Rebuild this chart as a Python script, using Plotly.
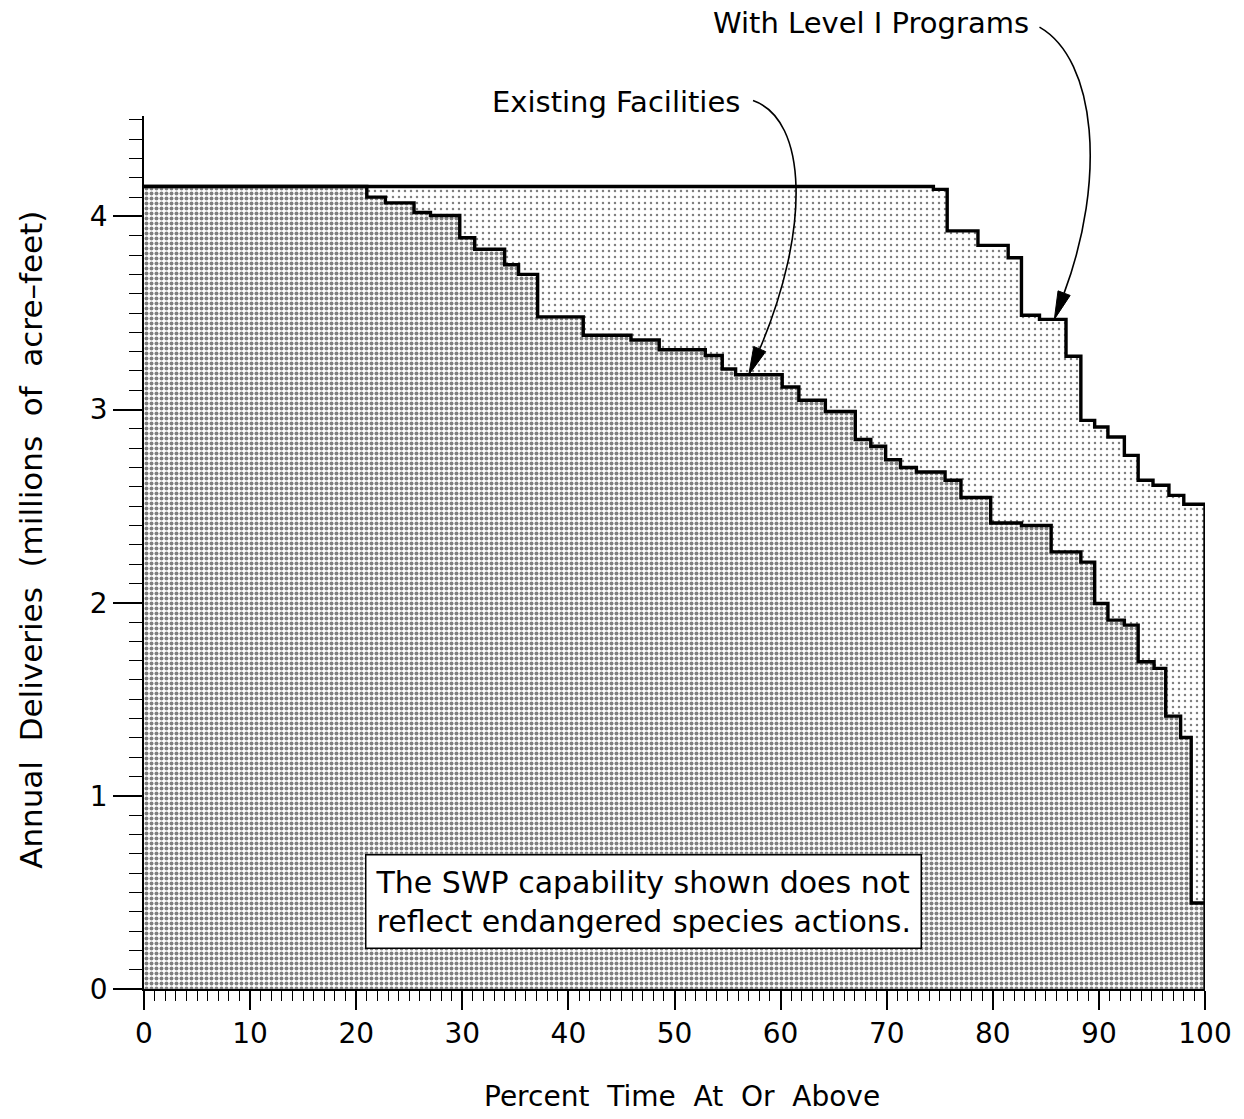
import math
import plotly.graph_objects as go

# Delivery-exceedance steps: percent of time at which each level starts, and
# the annual delivery (millions of acre-feet) held until the next step.
existing_pct = [0, 21.0, 22.75, 25.45, 27.0, 29.76, 31.17, 33.99, 35.3, 37.1,
                41.4, 45.9, 48.56, 52.9, 54.5, 55.76, 60.15, 61.72, 64.22, 67.04,
                68.5, 69.9, 71.3, 72.8, 75.5, 77.0, 79.8, 82.7, 85.5, 88.3,
                89.6, 90.85, 92.4, 93.7, 95.2, 96.3, 97.7, 98.7]
existing_maf = [4.155, 4.10, 4.07, 4.02, 4.005, 3.89, 3.83, 3.75, 3.70, 3.48,
                3.385, 3.36, 3.31, 3.28, 3.21, 3.18, 3.117, 3.048, 2.99, 2.845,
                2.81, 2.74, 2.70, 2.677, 2.634, 2.545, 2.413, 2.40, 2.263, 2.21,
                1.996, 1.91, 1.884, 1.694, 1.66, 1.413, 1.302, 0.445]

level1_pct = [0, 74.4, 75.7, 78.6, 81.45, 82.7, 84.4, 86.9, 88.3, 89.6,
              90.85, 92.4, 93.7, 95.1, 96.6, 98.0]
level1_maf = [4.155, 4.14, 3.925, 3.85, 3.786, 3.488, 3.467, 3.276, 2.944, 2.91,
              2.858, 2.763, 2.634, 2.608, 2.556, 2.51]

x_ticks = list(range(0, 101, 10))
y_ticks = [0, 1, 2, 3, 4]

X_MAX = 100
Y_MAX = 4.52

W, H = 1244, 1119
MARGIN = dict(l=144, r=35, t=116, b=130)
PW = W - MARGIN["l"] - MARGIN["r"]
PH = H - MARGIN["t"] - MARGIN["b"]

FONT = "DejaVu Sans"
GAP = "\u00a0 "  # wide word spacing used in the axis titles


def closed_steps(pcts, vals):
    """Extend a step series to 100 % and drop to zero at the right edge."""
    return list(pcts) + [X_MAX, X_MAX], list(vals) + [vals[-1], 0]


def level_at(pcts, vals, x):
    level = vals[0]
    for p, v in zip(pcts, vals):
        if p <= x:
            level = v
    return level


def to_paper(x, y):
    return x / X_MAX, y / Y_MAX


def to_px(x, y):
    return x * PW / X_MAX, y * PH / Y_MAX


def px_to_paper(px, py):
    return px / PW, py / PH


def curved_arrow(start, c1, c2, tip, head_len=28, head_half=6.5):
    """Cubic leader line with a filled arrowhead, all in paper coordinates."""
    shapes = []
    s, a, b = to_paper(*start), to_paper(*c1), to_paper(*c2)
    tx, ty = to_px(*tip)
    bx, by = to_px(*c2)
    dx, dy = tx - bx, ty - by
    n = math.hypot(dx, dy)
    ux, uy = dx / n, dy / n
    base = (tx - ux * head_len, ty - uy * head_len)
    e = px_to_paper(*base)
    shapes.append(dict(
        type="path", xref="paper", yref="paper",
        path=f"M {s[0]},{s[1]} C {a[0]},{a[1]} {b[0]},{b[1]} {e[0]},{e[1]}",
        line=dict(color="black", width=1.6),
    ))
    p1 = px_to_paper(base[0] - uy * head_half, base[1] + ux * head_half)
    p2 = px_to_paper(base[0] + uy * head_half, base[1] - ux * head_half)
    t = px_to_paper(tx, ty)
    shapes.append(dict(
        type="path", xref="paper", yref="paper",
        path=f"M {t[0]},{t[1]} L {p1[0]},{p1[1]} L {p2[0]},{p2[1]} Z",
        fillcolor="black", line=dict(color="black", width=1),
    ))
    return shapes


fig = go.Figure()

ux_, uy_ = closed_steps(level1_pct, level1_maf)
fig.add_trace(go.Scatter(
    x=ux_, y=uy_, mode="lines", line=dict(shape="hv", color="black", width=3.4),
    fill="tozeroy", fillcolor="white",
    fillpattern=dict(shape=".", fgcolor="black", bgcolor="white", size=6, solidity=0.13),
    hoverinfo="skip", showlegend=False,
))

ex_, ey_ = closed_steps(existing_pct, existing_maf)
fig.add_trace(go.Scatter(
    x=ex_, y=ey_, mode="lines", line=dict(shape="hv", color="black", width=3.4),
    fill="tozeroy", fillcolor="white",
    fillpattern=dict(shape=".", fgcolor="black", bgcolor="white", size=5, solidity=0.5),
    hoverinfo="skip", showlegend=False,
))

# Leader arrows for the two curve labels
ex_tip_x = 57.0
ex_tip = (ex_tip_x, level_at(existing_pct, existing_maf, ex_tip_x))
l1_tip_x = 85.8
l1_tip = (l1_tip_x, level_at(level1_pct, level1_maf, l1_tip_x))

shapes = []
shapes += curved_arrow((57.4, 4.60), (62.6, 4.50), (62.8, 3.93), ex_tip)
shapes += curved_arrow((84.4, 4.98), (89.8, 4.81), (90.7, 4.19), l1_tip)

annotations = [
    dict(text="Existing Facilities", xref="paper", yref="paper",
         x=to_paper(44.5, 4.59)[0], y=to_paper(44.5, 4.59)[1],
         xanchor="center", yanchor="middle", showarrow=False,
         font=dict(family=FONT, size=29, color="black")),
    dict(text="With Level I Programs", xref="paper", yref="paper",
         x=to_paper(68.5, 5.0)[0], y=to_paper(68.5, 5.0)[1],
         xanchor="center", yanchor="middle", showarrow=False,
         font=dict(family=FONT, size=29, color="black")),
    dict(text="The SWP capability shown does not<br>reflect endangered species actions.",
         xref="x", yref="y", x=47.1, y=0.455, xanchor="center", yanchor="middle",
         showarrow=False, align="left", bgcolor="white", bordercolor="black",
         borderwidth=1.5, borderpad=9,
         font=dict(family=FONT, size=30, color="black")),
    # axis titles
    dict(text=GAP.join(["Percent", "Time", "At", "Or", "Above"]),
         xref="paper", yref="paper", x=0.507, y=-0.123,
         xanchor="center", yanchor="middle", showarrow=False,
         font=dict(family=FONT, size=28, color="black")),
    dict(text=GAP.join(["Annual", "Deliveries", "(millions", "of", "acre\u2013feet)"]),
         xref="paper", yref="paper", x=-0.106, y=0.514, textangle=-90,
         xanchor="center", yanchor="middle", showarrow=False,
         font=dict(family=FONT, size=31, color="black")),
]

fig.update_layout(
    width=W, height=H, margin=MARGIN,
    paper_bgcolor="white", plot_bgcolor="white",
    font=dict(family=FONT, color="black"),
    shapes=shapes, annotations=annotations,
    showlegend=False,
)

fig.update_xaxes(
    range=[0, X_MAX], tickvals=x_ticks, ticktext=[str(v) for v in x_ticks],
    ticks="outside", ticklen=19, tickwidth=1.5, tickcolor="black",
    showline=True, linecolor="black", linewidth=1.5,
    showgrid=False, zeroline=False,
    minor=dict(dtick=1, tick0=0, ticks="outside", ticklen=10, tickwidth=1.2,
               tickcolor="black", showgrid=False),
    tickfont=dict(family=FONT, size=28, color="black"),
)

fig.update_yaxes(
    range=[0, Y_MAX], tickvals=y_ticks, ticktext=[str(v) for v in y_ticks],
    ticks="outside", ticklen=29, tickwidth=1.5, tickcolor="black",
    showline=True, linecolor="black", linewidth=1.5,
    showgrid=False, zeroline=False,
    minor=dict(dtick=0.1, tick0=0, ticks="outside", ticklen=13, tickwidth=1.2,
               tickcolor="black", showgrid=False),
    tickfont=dict(family=FONT, size=28, color="black"),
)

fig.write_html("out.html")
